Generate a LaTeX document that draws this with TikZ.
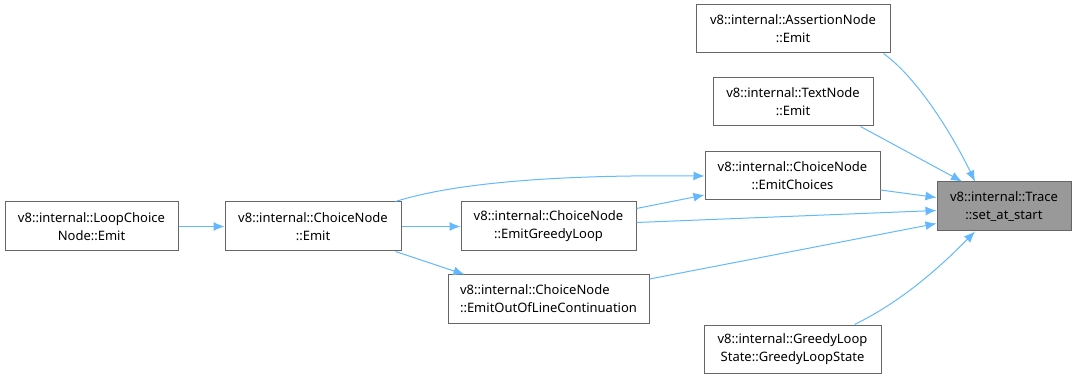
\documentclass[tikz,border=0pt]{standalone}
\usepackage{fontspec}
\setmainfont{Noto Sans}
\usetikzlibrary{arrows.meta}

\definecolor{edgeblue}{HTML}{63B8FF}
\definecolor{boxgray}{HTML}{666666}
\definecolor{curgray}{HTML}{999999}

\tikzset{
  fn/.style={draw=boxgray, line width=1pt, fill=white, minimum height=48pt,
    align=center, inner sep=0pt, font=\fontsize{13}{18}\selectfont},
  cur/.style={fn, fill=curgray},
  link/.style={draw=edgeblue, line width=1pt, -{Latex[length=11pt,width=9pt]}}
}

\begin{document}
\begin{tikzpicture}[x=1pt,y=-1pt]
		\useasboundingbox (0,0) rectangle (1076,379);
		% функции
		\node [cur, minimum width=134pt, minimum height=49pt] (trace) at (1004,206.5) {v8::internal::Trace\\::set\_at\_start};
		\node [fn, minimum width=194pt] (assert) at (793,29) {v8::internal::AssertionNode\\::Emit};
		\node [fn, minimum width=160pt] (text) at (793,102) {v8::internal::TextNode\\::Emit};
		\node [fn, minimum width=175pt] (choices) at (792.5,176) {v8::internal::ChoiceNode\\::EmitChoices};
		\node [fn, minimum width=177pt] (gls) at (792.5,349) {v8::internal::GreedyLoop\\State::GreedyLoopState};
		\node [fn, minimum width=173pt, minimum height=49pt] (loopch) at (91.5,226.5) {v8::internal::LoopChoice\\Node::Emit};
		\node [fn, minimum width=176pt, minimum height=49pt] (emit) at (313,226.5) {v8::internal::ChoiceNode\\::Emit};
		\node [fn, minimum width=175pt, minimum height=49pt] (greedy) at (548.5,226.5) {v8::internal::ChoiceNode\\::EmitGreedyLoop};
		\node [fn, minimum width=201pt, align=left] (ool) at (548.5,299) {v8::internal::ChoiceNode\\::EmitOutOfLineContinuation};
		% вызовы
		\draw [link] ([xshift=-7pt]assert.south east) .. controls (920,80) and (955,140) .. ([xshift=-29pt]trace.north);
		\draw [link] ([xshift=-13pt]text.south east) -- ([xshift=-42pt]trace.north);
		\draw [link] ([yshift=-14pt]choices.east) -- ([yshift=9pt]trace.west);
		\draw [link] ([yshift=4pt]greedy.east) -- ([yshift=-4pt]trace.west);
		\draw [link] ([yshift=20pt]ool.east) -- ([yshift=-17pt]trace.west);
		\draw [link] ([xshift=62pt]gls.north) .. controls (905,300) and (945,262) .. ([xshift=-29pt]trace.south);
		\draw [link] ([xshift=-6pt]emit.north east) .. controls (470,178) and (600,175) .. (choices.west);
		\draw [link] ([yshift=18pt]greedy.east) -- ([yshift=-19pt]choices.west);
		\draw [link] (loopch) -- (emit);
		\draw [link] (emit) -- (greedy);
		\draw [link] ([xshift=-6pt]emit.south east) -- ([xshift=17pt]ool.north west);
\end{tikzpicture}
\end{document}
